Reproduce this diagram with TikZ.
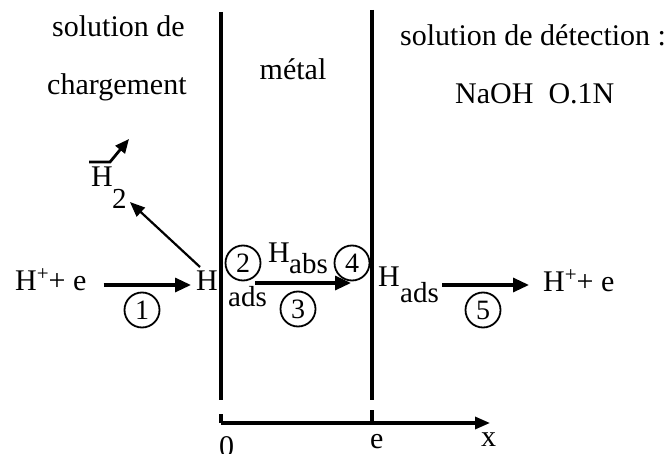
\documentclass[tikz,border=0pt]{standalone}
\usepackage{fontspec}
\setmainfont{Liberation Serif}
\usetikzlibrary{arrows.meta,calc}
\tikzset{
  txt/.style={font=\fontsize{30}{36}\selectfont, inner sep=0pt, anchor=base west},
  sub/.style={font=\fontsize{29}{34}\selectfont, inner sep=0pt, anchor=base west},
  circ/.style={circle, draw, line width=1.8pt, minimum size=35pt, inner sep=0pt, font=\fontsize{28}{30}\selectfont},
  arr/.style={line width=3.2pt, -{Triangle[length=16pt,width=14pt]}},
  wall/.style={line width=3.5pt},
}
\newcommand{\supplus}{\raisebox{10pt}{\fontsize{21}{21}\selectfont +}}
\begin{document}
\begin{tikzpicture}[x=1pt,y=-1pt]
\useasboundingbox (0,0) rectangle (671,454);
% headings
\node[txt] (sol1) at (52,37) {solution de};
\node[txt] (sol2) at (47,95) {chargement};
\node[txt, anchor=base] (met) at (293,80) {métal};
\node[txt] (det) at (400,46) {solution de détection :};
\node[txt] (naoh) at (455,104) {NaOH\ \ O.1N};
% walls
\coordinate (w1t) at (221,12);
\coordinate (w1b) at (221,400);
\coordinate (w2t) at (372,10);
\coordinate (w2b) at (372,400);
\draw[wall] (w1t) -- (w1b);
\draw[wall] (w2t) -- (w2b);
% axis
\coordinate (o) at (221,423);
\coordinate (ox) at (490,423);
\coordinate (t1) at (221,414);
\coordinate (t2) at (372,410);
\coordinate (e2) at (372,423);
\draw[wall] (t1) -- (o);
\draw[wall] (t2) -- (e2);
\draw[line width=3.2pt, -{Triangle[length=15pt,width=12pt]}] (o) -- (ox);
\node[txt] (zero) at (219,456) {0};
\node[txt] (elab) at (370,448) {e};
\node[txt] (xlab) at (481,446) {x};
% left side
\node[txt] (hpl) at (15,290) {H\supplus+ e};
\node[txt] (Hl) at (196,290) {H};
\node[sub] (adsl) at (228,306) {ads};
\draw[arr] ($(hpl.base east)+(17,-5)$) -- ($(Hl.base west)+(-5,-5)$);
\node[circ] (c1) at (142,310) {1};
% H2
\node[txt] (H2) at (91,187) {H};
\node[sub] (two) at (112,208) {2};
\draw[line width=2.2pt, -{Triangle[length=15pt,width=12pt]}] ($(Hl.base west)+(4,-23)$) -- ($(two.base east)+(3,-6)$);
\coordinate (g1) at (89,162);
\coordinate (g2) at (110,162);
\coordinate (g3) at (129,139);
\draw[line width=2.8pt, -{Triangle[length=14pt,width=12pt]}] (g1) -- (g2) -- (g3);
% metal
\node[circ] (c2) at (243,263) {2};
\node[txt] (Habs) at (268,262) {H};
\node[sub] (abs) at (289,273) {abs};
\node[circ] (c4) at (352,263) {4};
\draw[arr] ($(c2.center)+(12,20)$) -- ($(c4.center)+(-1,20)$);
\node[circ] (c3) at (298,309) {3};
% right side
\node[txt] (Hr) at (378,286) {H};
\node[sub] (adsr) at (400,302) {ads};
\node[txt] (hpr) at (543,291) {H\supplus+ e};
\draw[arr] ($(adsr.base east)+(3,-17)$) -- ($(hpr.base west)+(-14,-6)$);
\node[circ] (c5) at (483,310) {5};
\end{tikzpicture}
\end{document}
